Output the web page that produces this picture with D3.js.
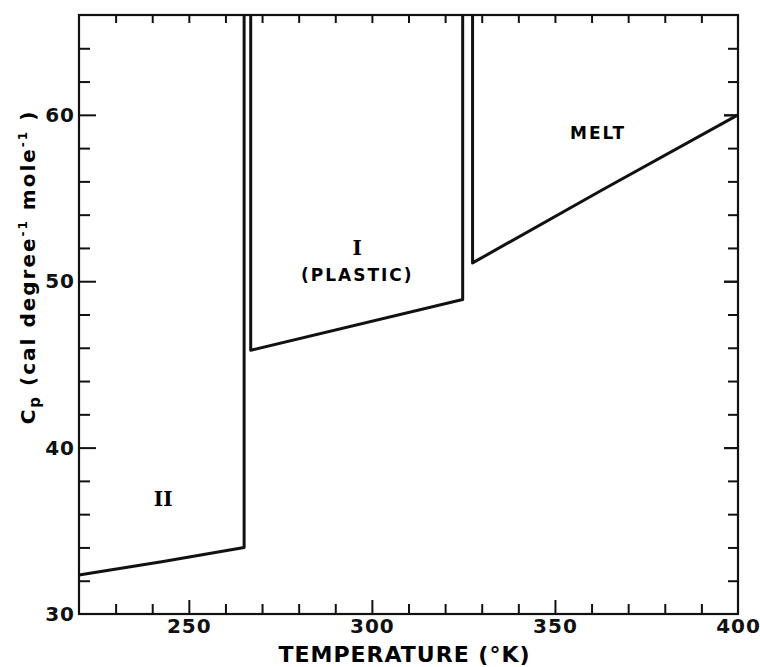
<!DOCTYPE html>
<html>
<head>
<meta charset="utf-8">
<script src="https://cdn.jsdelivr.net/npm/d3@7"></script>
<style>
body { margin: 0; background: #fff; }
.tick text { font-family: "DejaVu Sans", sans-serif; font-weight: bold; font-size: 20px; letter-spacing: 1px; fill: #111; }
</style>
</head>
<body>
<div id="chart"></div>
<script>
// Cp curves (T in K, Cp in cal/deg/mole)
var phase2T  = [220, 243, 265.1, 265.1]
var phase2Cp = [32.35, 33.15, 34.0, 66]
var phase1T  = [266.9, 266.9, 324.8, 324.8]
var phase1Cp = [66, 45.85, 48.9, 66]
var meltT    = [327.5, 327.5, 363, 400]
var meltCp   = [66, 51.1, 55.5, 60.0]

var xLabels = [250, 300, 350, 400]
var yLabels = [30, 40, 50, 60]
var xMinor = d3.range(230, 400, 10)
var yMinor = d3.range(32, 66, 2)

var margin = {top: 15, right: 22, bottom: 53, left: 79},
    width = 760 - margin.left - margin.right,
    height = 667 - margin.top - margin.bottom

var svg = d3.select("#chart")
  .append("svg")
  .attr("width", 760)
  .attr("height", 667)
  .append("g")
  .attr("transform", "translate(" + margin.left + "," + margin.top + ")")

var x = d3.scaleLinear().domain([220, 400]).range([0, width])
var y = d3.scaleLinear().domain([30, 66]).range([height, 0])

function styleAxis(g) {
  g.selectAll("line").attr("stroke", "#111").attr("stroke-width", 2)
  g.select(".domain").remove()
}

// bottom ticks (inward)
svg.append("g").attr("transform", "translate(0," + height + ")")
  .call(d3.axisBottom(x).tickValues(xMinor.filter(d => xLabels.indexOf(d) < 0)).tickSize(-10).tickFormat(""))
  .call(styleAxis)
svg.append("g").attr("transform", "translate(0," + height + ")")
  .call(d3.axisBottom(x).tickValues(xLabels).tickSize(-14).tickPadding(5))
  .call(styleAxis)
  .call(g => g.selectAll(".tick").filter(d => d == 400).select("line").remove())

// top ticks
svg.append("g")
  .call(d3.axisTop(x).tickValues(xMinor).tickSize(-8).tickFormat(""))
  .call(styleAxis)

// left ticks
svg.append("g")
  .call(d3.axisLeft(y).tickValues(yMinor.filter(d => yLabels.indexOf(d) < 0)).tickSize(-11).tickFormat(""))
  .call(styleAxis)
svg.append("g")
  .call(d3.axisLeft(y).tickValues(yLabels).tickSize(-17).tickPadding(4))
  .call(styleAxis)
  .call(g => g.selectAll(".tick").filter(d => d == 30).select("line").remove())

// right ticks
svg.append("g").attr("transform", "translate(" + width + ",0)")
  .call(d3.axisRight(y).tickValues(yMinor.concat([40, 50, 60])).tickSize(-10).tickFormat(""))
  .call(styleAxis)
  .call(g => g.selectAll(".tick").filter(d => d % 10 == 0).select("line").attr("x2", -14))

// frame
svg.append("rect")
  .attr("x", 0).attr("y", 0)
  .attr("width", width).attr("height", height)
  .attr("fill", "none")
  .attr("stroke", "#111")
  .attr("stroke-width", 2.2)

var line = d3.line().x(d => x(d[0])).y(d => y(d[1]))

var curves = [
  d3.zip(phase2T, phase2Cp),
  d3.zip(phase1T, phase1Cp),
  d3.zip(meltT, meltCp)
]
svg.selectAll(".curve")
  .data(curves)
  .enter().append("path")
  .attr("class", "curve")
  .attr("d", line)
  .attr("fill", "none")
  .attr("stroke", "#111")
  .attr("stroke-width", 3)
  .attr("stroke-linejoin", "round")

// phase labels
var sans = "'DejaVu Sans', sans-serif"
var serif = "'DejaVu Serif', 'Liberation Serif', serif"
svg.append("text").attr("x", x(243)).attr("y", y(36.9)).attr("dy", "0.35em")
  .attr("text-anchor", "middle").attr("font-family", serif).attr("font-weight", "bold")
  .attr("font-size", 20).text("II")
svg.append("text").attr("x", x(296)).attr("y", y(52.0)).attr("dy", "0.35em")
  .attr("text-anchor", "middle").attr("font-family", serif).attr("font-weight", "bold")
  .attr("font-size", 20).text("I")
svg.append("text").attr("x", x(296)).attr("y", y(50.4)).attr("dy", "0.35em")
  .attr("text-anchor", "middle").attr("font-family", sans).attr("font-weight", "bold")
  .attr("font-size", 17).attr("letter-spacing", 2).text("(PLASTIC)")
svg.append("text").attr("x", x(361.8)).attr("y", y(58.9)).attr("dy", "0.35em")
  .attr("text-anchor", "middle").attr("font-family", sans).attr("font-weight", "bold")
  .attr("font-size", 17).attr("letter-spacing", 2).text("MELT")

// axis titles
svg.append("text")
  .attr("x", width / 2 - 4).attr("y", height + 48)
  .attr("text-anchor", "middle")
  .attr("font-family", sans).attr("font-weight", "bold").attr("font-size", 22)
  .attr("letter-spacing", 1)
  .text("TEMPERATURE (°K)")

var yt = svg.append("text")
  .attr("transform", "translate(-44,252) rotate(-90)")
  .attr("text-anchor", "middle")
  .attr("font-family", sans).attr("font-weight", "bold").attr("font-size", 20)
  .attr("letter-spacing", 2)
yt.append("tspan").text("C")
yt.append("tspan").attr("dy", 5).attr("font-size", 15).text("p")
yt.append("tspan").attr("dy", -5).text(" (cal degree")
yt.append("tspan").attr("dy", -8).attr("font-size", 12).text("-1")
yt.append("tspan").attr("dy", 8).text("   mole")
yt.append("tspan").attr("dy", -8).attr("font-size", 12).text("-1")
yt.append("tspan").attr("dy", 8).text(" )")
</script>
</body>
</html>
